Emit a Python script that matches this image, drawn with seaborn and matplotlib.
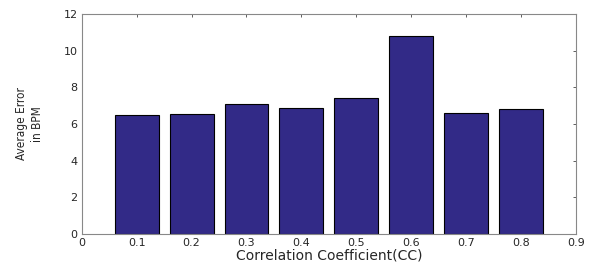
import pandas as pd
import matplotlib
matplotlib.use('Agg')
import matplotlib.pyplot as plt
import seaborn as sns

# values
cc = [0.1, 0.2, 0.3, 0.4, 0.5, 0.6, 0.7, 0.8]
avg_error = [6.49, 6.56, 7.11, 6.89, 7.42, 10.82, 6.58, 6.84]
xticks = [0, 0.1, 0.2, 0.3, 0.4, 0.5, 0.6, 0.7, 0.8, 0.9]
yticks = [0, 2, 4, 6, 8, 10, 12]

df = pd.DataFrame({'cc': cc, 'err': avg_error})

sns.set_style('white')
plt.rcParams['font.family'] = ['DejaVu Sans']

fig = plt.figure(figsize=(5.93, 2.74), dpi=100)
ax = fig.add_axes([0.138, 0.146, 0.833, 0.803])

sns.barplot(data=df, x='cc', y='err', native_scale=True, width=0.8,
            color='#322A87', edgecolor='black', linewidth=0.8,
            saturation=1, ax=ax)

ax.set_xlim(0, 0.9)
ax.set_ylim(0, 12)
ax.set_xticks(xticks)
ax.set_xticklabels([str(t) if t != 0 else '0' for t in xticks])
ax.set_yticks(yticks)
ax.tick_params(direction='in', length=2.5, width=0.6, color='#444444',
               labelsize=8, top=True, right=True, pad=3)
for s in ax.spines.values():
    s.set_color('#888888')
    s.set_linewidth(0.8)

ax.set_xlabel('Correlation Coefficient(CC)', fontsize=10, labelpad=0)
ax.set_ylabel('Average Error\nin BPM', fontsize=8.5,
              family=['Liberation Sans Narrow', 'DejaVu Sans'],
              stretch='condensed', labelpad=14, linespacing=1.3)

plt.savefig('out.png', dpi=100)
plt.close()
